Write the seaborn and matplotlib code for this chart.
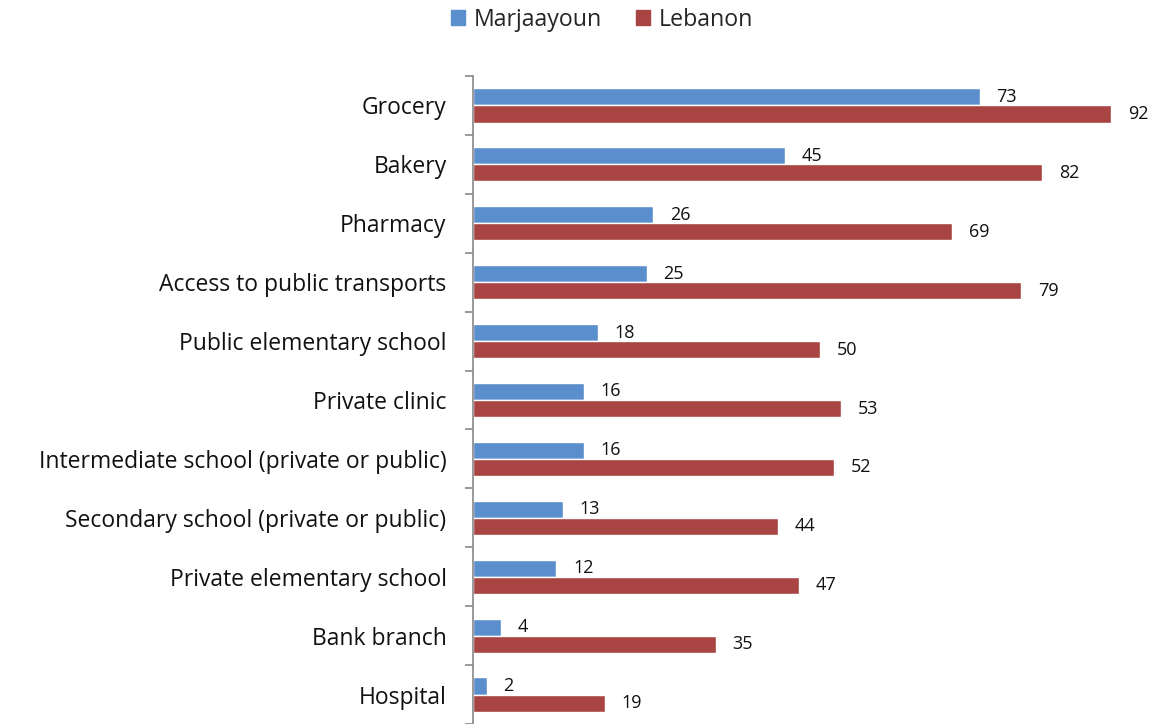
import matplotlib
matplotlib.use("Agg")
import matplotlib.pyplot as plt
import seaborn as sns
import pandas as pd
import numpy as np

categories = ["Grocery", "Bakery", "Pharmacy", "Access to public transports",
              "Public elementary school", "Private clinic",
              "Intermediate school (private or public)",
              "Secondary school (private or public)",
              "Private elementary school", "Bank branch", "Hospital"]
marjaayoun = [73, 45, 26, 25, 18, 16, 16, 13, 12, 4, 2]
lebanon = [92, 82, 69, 79, 50, 53, 52, 44, 47, 35, 19]
series_names = ["Marjaayoun", "Lebanon"]
colors = ["#5B8ECC", "#A84543"]

df = pd.DataFrame({
    "facility": categories * 2,
    "value": marjaayoun + lebanon,
    "region": [series_names[0]] * len(categories) + [series_names[1]] * len(categories),
})

sns.set_style("white")
plt.rcParams["font.family"] = ["Open Sans", "DejaVu Sans"]

fig = plt.figure(figsize=(11.76, 7.24), dpi=100)
ax = fig.add_axes([473 / 1176, 0.0, 694 / 1176, (724 - 76) / 724])

sns.barplot(data=df, y="facility", x="value", hue="region", palette=colors,
            width=0.58, orient="h", ax=ax, saturation=1, legend=True)

for cont in ax.containers:
    ax.bar_label(cont, padding=12, fontsize=13, color="#111111")

ax.set_xlim(0, 100)
ax.set_ylim(len(categories) - 0.5, -0.5)
ax.set_xlabel("")
ax.set_ylabel("")
ax.set_xticks([])
for s in ["top", "right", "bottom"]:
    ax.spines[s].set_visible(False)
ax.spines["left"].set_color("#888888")
ax.spines["left"].set_linewidth(1.2)

ax.set_yticks(np.arange(len(categories)))
ax.set_yticklabels(categories, fontsize=16.5, color="#111111")
ax.tick_params(axis="y", which="major", left=False, length=0, pad=19)
ax.set_yticks(np.arange(-0.5, len(categories), 1), minor=True)
ax.tick_params(axis="y", which="minor", left=True, length=6, width=1.2,
               color="#888888", direction="out")

leg = ax.get_legend()
leg.remove()
handles = [plt.Rectangle((0, 0), 1, 1, color=c) for c in colors]
fig.legend(handles, series_names, loc="center", bbox_to_anchor=(602 / 1176, 1 - 20 / 724),
           ncol=2, frameon=False, fontsize=16.7, handlelength=0.6, handleheight=0.6,
           handletextpad=0.35, columnspacing=1.5)

fig.savefig("out.png", dpi=100)
